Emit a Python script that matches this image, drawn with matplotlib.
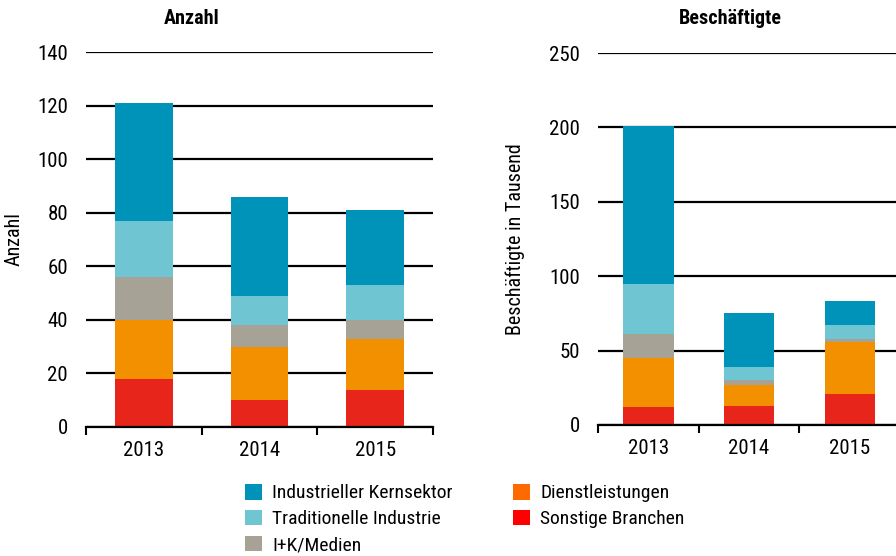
import matplotlib
matplotlib.use("Agg")
import matplotlib.pyplot as plt
from matplotlib.patches import Patch
import numpy as np

plt.rcParams['font.family'] = ['Roboto Condensed', 'DejaVu Sans']

years = ["2013", "2014", "2015"]
series = ["Sonstige Branchen", "Dienstleistungen", "I+K/Medien",
          "Traditionelle Industrie", "Industrieller Kernsektor"]

# Anzahl (left)
anz_sonstige = [18, 10, 14]
anz_dienst = [22, 20, 19]
anz_ikm = [16, 8, 7]
anz_trad = [21, 11, 13]
anz_kern = [44, 37, 28]

# Beschäftigte in Tausend (right)
bes_sonstige = [12, 13, 21]
bes_dienst = [33, 14, 35]
bes_ikm = [16, 3, 2]
bes_trad = [34, 9, 9]
bes_kern = [106, 36, 16]

bar_colors = ["#E8251A", "#F29000", "#A6A396", "#6FC5D2", "#0093B9"]
legend_colors = {"Industrieller Kernsektor": "#0093B9",
                 "Traditionelle Industrie": "#6FC5D2",
                 "I+K/Medien": "#A6A396",
                 "Dienstleistungen": "#FF6A00",
                 "Sonstige Branchen": "#FF0000"}

W, H = 896, 556
fig = plt.figure(figsize=(W / 100, H / 100), dpi=100)


def ax_rect(x0, y0, x1, y1):
    return [x0 / W, 1 - y1 / H, (x1 - x0) / W, (y1 - y0) / H]


def draw(ax, data, ymax, step):
    x = np.arange(len(years))
    bottom = np.zeros(len(years))
    for vals, col in zip(data, bar_colors):
        ax.bar(x, vals, 0.5, bottom=bottom, color=col, zorder=3,
               edgecolor="none")
        bottom += np.array(vals)
    ax.set_ylim(0, ymax)
    ax.set_xlim(-0.5, len(years) - 0.5)
    ax.set_yticks(np.arange(0, ymax + 1, step))
    ax.yaxis.grid(True, color="black", linewidth=1.6, zorder=0)
    ax.set_axisbelow(True)
    ax.set_xticks(x)
    ax.set_xticklabels(years)
    ax.set_xticks(np.arange(-0.5, len(years)), minor=True)
    ax.tick_params(axis="x", which="major", length=0, labelsize=15, pad=10)
    ax.tick_params(axis="x", which="minor", length=6, width=1.5,
                   direction="out", color="black")
    ax.tick_params(axis="y", length=0, labelsize=15, pad=13)
    for s in ["top", "right", "left"]:
        ax.spines[s].set_visible(False)
    ax.spines["bottom"].set_linewidth(1.6)
    ax.spines["bottom"].set_color("black")
    ax.spines["bottom"].set_zorder(4)


ax1 = fig.add_axes(ax_rect(86, 52, 433, 427))
draw(ax1, [anz_sonstige, anz_dienst, anz_ikm, anz_trad, anz_kern], 140, 20)
ax1.set_ylabel("Anzahl", fontsize=14.5)
ax1.yaxis.set_label_coords(-0.18, 0.5)

ax2 = fig.add_axes(ax_rect(598, 53, 900, 425))
draw(ax2, [bes_sonstige, bes_dienst, bes_ikm, bes_trad, bes_kern], 250, 50)
ax2.set_ylabel("Beschäftigte in Tausend", fontsize=14.5)
ax2.yaxis.set_label_coords(-0.243, 0.5)

fig.text(192 / W, 1 - 18 / H, "Anzahl", ha="center", va="center",
         fontsize=14.5, fontweight="bold")
fig.text(730 / W, 1 - 18 / H, "Beschäftigte", ha="center", va="center",
         fontsize=14.5, fontweight="bold")

order = ["Industrieller Kernsektor", "Traditionelle Industrie", "I+K/Medien",
         "Dienstleistungen", "Sonstige Branchen"]
handles = [Patch(facecolor=legend_colors[n], edgecolor="none", label=n)
           for n in order]
fig.legend(handles=handles, loc="upper left",
           bbox_to_anchor=(245 / W, 1 - 484 / H), ncol=2, frameon=False,
           fontsize=14, handlelength=0.85, handleheight=0.85,
           handletextpad=0.55, columnspacing=3.1, labelspacing=0.38,
           borderaxespad=0, borderpad=0)

fig.savefig("out.png", dpi=100)
